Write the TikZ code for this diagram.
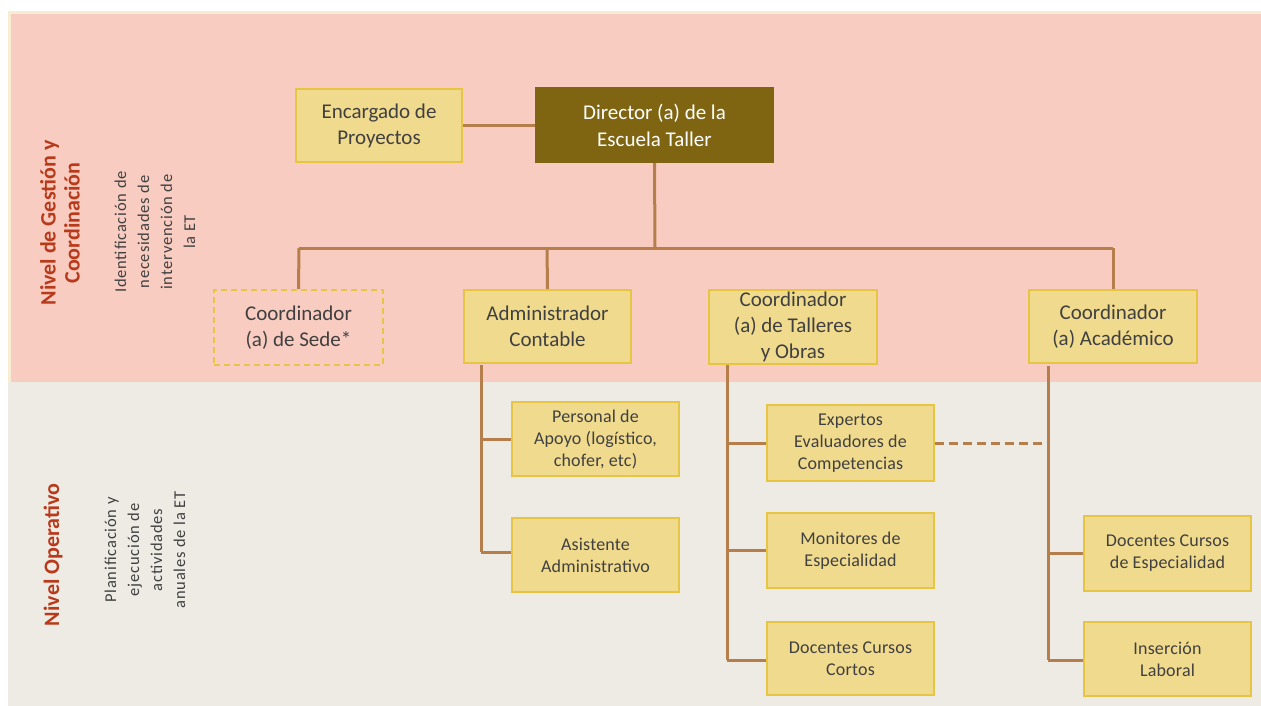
\documentclass[tikz,border=0pt]{standalone}
\usepackage{fontspec}
\setmainfont{Carlito}
\definecolor{pinkbg}{HTML}{F8CCC1}
\definecolor{graybg}{HTML}{EEEBE5}
\definecolor{creamedge}{HTML}{F7EDD3}
\definecolor{boxfill}{HTML}{F0DA8E}
\definecolor{boxedge}{HTML}{E6C444}
\definecolor{conn}{HTML}{B57E4A}
\definecolor{dirfill}{HTML}{7F6512}
\definecolor{txt}{HTML}{404040}
\definecolor{lvl}{HTML}{B83A1A}
\begin{document}
\begin{tikzpicture}[x=1pt,y=-1pt,
  box/.style={draw=boxedge,fill=boxfill,line width=2pt,text=txt,align=center,inner sep=0pt},
  bigbox/.style={box,font=\fontsize{21}{26}\selectfont},
  smallbox/.style={box,font=\fontsize{18}{22}\selectfont\addfontfeatures{LetterSpace=1}},
  link/.style={draw=conn,line width=3pt},
  lvltitle/.style={rotate=90,text=lvl,font=\bfseries\fontsize{22}{24}\selectfont,align=center},
  lvldesc/.style={rotate=90,text=txt,font=\fontsize{16.5}{23}\selectfont\addfontfeatures{LetterSpace=5},align=center}]
\useasboundingbox (0,0) rectangle (1261,706);
\fill[white] (0,0) rectangle (1261,706);
\fill[creamedge] (8,11) rectangle (1261,382);
\fill[pinkbg] (11,14) rectangle (1261,382);
\fill[graybg] (8,382) rectangle (1261,706);
% level labels
\node[lvltitle] (lvl1) at (60,223) {Nivel de Gestión y\\Coordinación};
\node[lvldesc] (d1) at (155,232) {Identificación de\\necesidades de\\intervención de\\la ET};
\node[lvltitle] (lvl2) at (53,555) {Nivel Operativo};
\node[lvldesc] (d2) at (145,550) {Planificación y\\ejecución de\\actividades\\anuales de la ET};
% top nodes
\node[bigbox,minimum width=166pt,minimum height=73pt] (enc) at (379,126) {Encargado de\\Proyectos};
\node[draw=none,fill=dirfill,text=white,align=center,font=\fontsize{21}{27}\selectfont,minimum width=239pt,minimum height=76pt,inner sep=0pt] (dir) at (654.5,125) {Director (a) de la\\Escuela Taller};
\node[bigbox,dashed,dash pattern=on 6pt off 4pt,fill=none,minimum width=169pt,minimum height=75pt] (sede) at (298.5,327.5) {Coordinador\\(a) de Sede*};
\node[bigbox,minimum width=167pt,minimum height=73pt] (adm) at (547.5,326.5) {Administrador\\Contable};
\node[bigbox,minimum width=168pt,minimum height=74pt] (tal) at (793,327) {Coordinador\\(a) de Talleres\\y Obras};
\node[bigbox,minimum width=168pt,minimum height=73pt] (aca) at (1113,326.5) {Coordinador\\(a) Académico};
% lower nodes
\node[smallbox,minimum width=167pt,minimum height=74pt] (pers) at (595.5,439) {Personal de\\Apoyo (logístico,\\chofer, etc)};
\node[smallbox,minimum width=167pt,minimum height=74pt] (asis) at (595.5,555) {Asistente\\Administrativo};
\node[smallbox,minimum width=167pt,minimum height=76pt] (exp) at (850.5,443) {Expertos\\Evaluadores de\\Competencias};
\node[smallbox,minimum width=167pt,minimum height=75pt] (mon) at (850.5,550.5) {Monitores de\\Especialidad};
\node[smallbox,minimum width=167pt,minimum height=73pt] (doc) at (850.5,658.5) {Docentes Cursos\\Cortos};
\node[smallbox,minimum width=167pt,minimum height=75pt] (des) at (1167.5,553.5) {Docentes Cursos\\de Especialidad};
\node[smallbox,minimum width=167pt,minimum height=74pt] (ins) at (1167.5,659) {Inserción\\Laboral};
% coordinates
\coordinate (busL) at (299,248);
\coordinate (busR) at (1113,248);
\coordinate (busD) at (655,248);
\coordinate (busA) at (547,248);
\coordinate (aT) at (481,365);
\coordinate (aB) at (481,552);
\coordinate (tT) at (727,365);
\coordinate (tB) at (727,660);
\coordinate (cT) at (1048,366);
\coordinate (cB) at (1048,660);
\coordinate (cM) at (1048,443);
% connectors
\draw[link] (enc.east) -- (enc.east -| dir.west);
\draw[link] (dir.south) -- (busD);
\draw[link] (busL) -- (busR);
\draw[link] (busL) -- (sede.north);
\draw[link] (busA) -- (adm.north);
\draw[link] (busR) -- (aca.north);
\draw[link] (aT) -- (aB);
\draw[link] (pers.west -| aT) -- (pers.west);
\draw[link] (aB) -- (asis.west |- aB);
\draw[link] (tT) -- (tB);
\draw[link] (exp.west -| tT) -- (exp.west);
\draw[link] (mon.west -| tT) -- (mon.west);
\draw[link] (tB) -- (doc.west |- tB);
\draw[link] (cT) -- (cB);
\draw[link] (des.west -| cT) -- (des.west);
\draw[link] (cB) -- (ins.west |- cB);
\draw[link,dash pattern=on 9pt off 5pt] (exp.east) -- (cM);
\end{tikzpicture}
\end{document}
